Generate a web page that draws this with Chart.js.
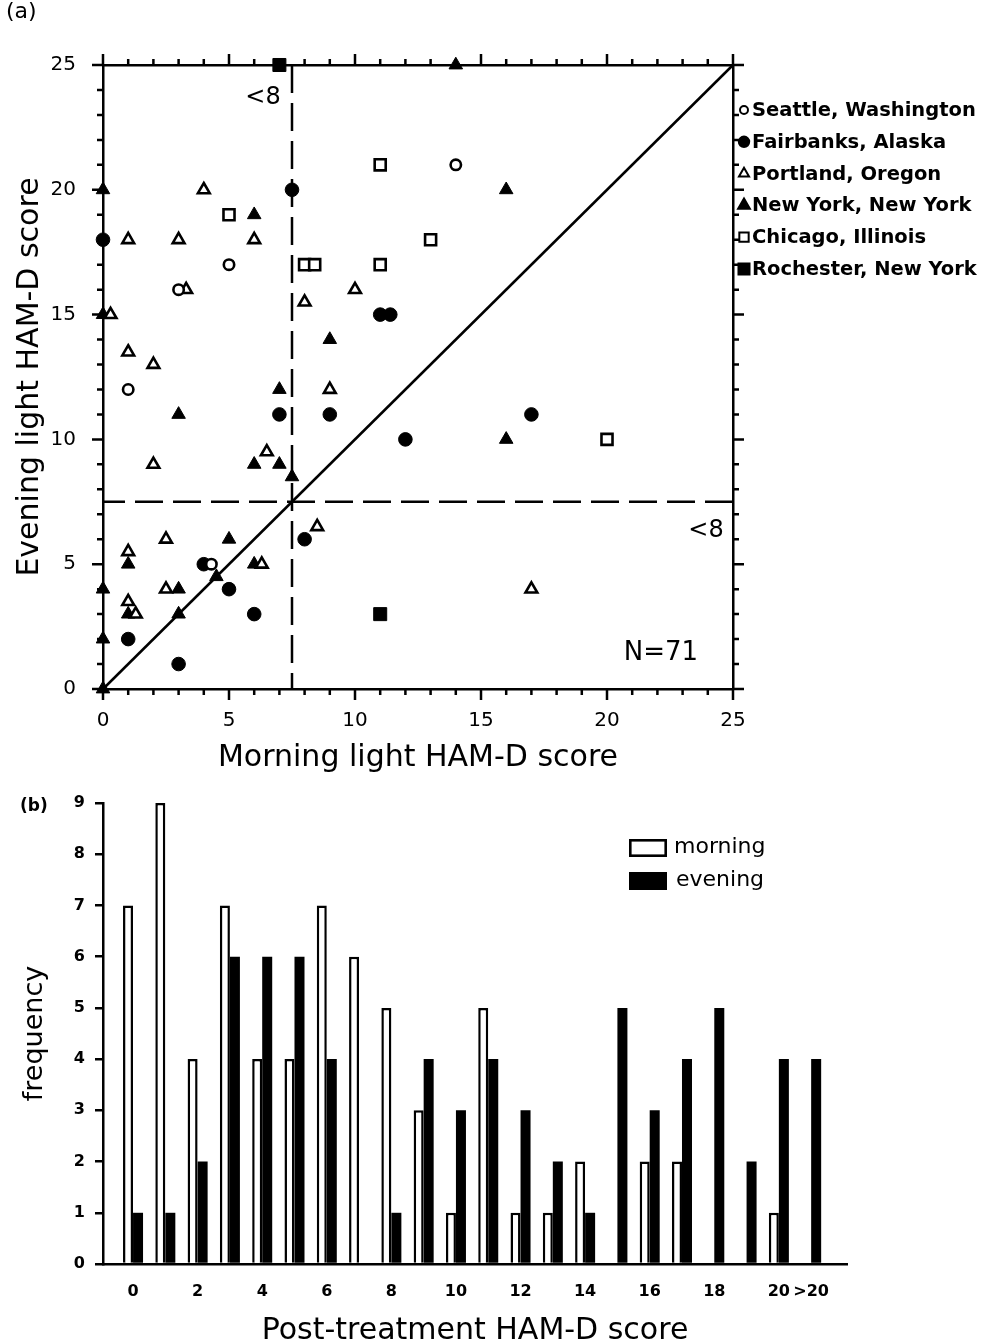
<!DOCTYPE html>
<html><head><meta charset="utf-8">
<script src="https://cdn.jsdelivr.net/npm/chart.js@4.4.1/dist/chart.umd.min.js"></script>
<style>
html,body{margin:0;padding:0;background:#fff;}
#wrapA{position:absolute;left:0;top:0;width:993px;height:780px;}
#wrapB{position:absolute;left:0;top:780px;width:993px;height:562px;}
canvas{display:block;}
</style></head><body>
<div id="wrapA"><canvas id="chartA" width="993" height="780"></canvas></div>
<div id="wrapB"><canvas id="chartB" width="993" height="562"></canvas></div>
<script>
// ===== Panel (a): morning vs evening HAM-D scores per site =====
const seattleMorning   = [5, 3, 1, 14, 4.3];
const seattleEvening   = [17, 16, 12, 21, 5];
const fairbanksMorning = [0, 7.5, 11, 11.4, 7, 9, 12, 17, 8, 4, 5, 6, 1, 3];
const fairbanksEvening = [18, 20, 15, 15, 11, 11, 10, 11, 6, 5, 4, 3, 2, 1];
const portlandMorning  = [4, 1, 3, 6, 3.3, 0.3, 1, 2, 8, 10, 9, 6.5, 2, 8.5, 17, 1, 2.5, 2.5, 1, 1.3, 6.3];
const portlandEvening  = [20, 18, 18, 18, 16, 15, 13.5, 13, 15.5, 16, 12, 9.5, 9, 6.5, 4, 5.5, 6, 4, 3.5, 3, 5];
const newYorkMorning   = [0, 6, 14, 16, 0, 9, 7, 3, 6, 7, 7.5, 16, 5, 1, 6, 0, 3, 4.5, 1, 3, 0, 0];
const newYorkEvening   = [20, 19, 25, 20, 15, 14, 12, 11, 9, 9, 8.5, 10, 6, 5, 5, 4, 4, 4.5, 3, 3, 2, 0];
const chicagoMorning   = [5, 11, 13, 8, 8.4, 11, 20];
const chicagoEvening   = [19, 21, 18, 17, 17, 17, 10];
const rochesterMorning = [7, 11];
const rochesterEvening = [25, 3];
const siteNames = ['Seattle, Washington', 'Fairbanks, Alaska', 'Portland, Oregon',
                   'New York, New York', 'Chicago, Illinois', 'Rochester, New York'];
const scatterTicks = [0, 5, 10, 15, 20, 25];
const cutoff = 7.5;
const scoreMax = 25;
const sampleSize = 71;

// ===== Panel (b): frequency of post-treatment scores =====
const scoreCategories = ['0','1','2','3','4','5','6','7','8','9','10','11','12','13','14','15','16','17','18','19','20','>20'];
const morningFreq = [7, 9, 4, 7, 4, 4, 7, 6, 5, 3, 1, 5, 1, 1, 2, 0, 2, 2, 0, 0, 1, 0];
const eveningFreq = [1, 1, 2, 6, 6, 6, 4, 0, 1, 4, 3, 4, 3, 2, 1, 5, 3, 4, 5, 2, 4, 4];
const barTickLabels = ['0','2','4','6','8','10','12','14','16','18','20','>20'];
const freqTicks = [0,1,2,3,4,5,6,7,8,9];

const FONT = "'DejaVu Sans', sans-serif";
const INK = '#000';
const LW = 2.5;

function pts(xs, ys) { return xs.map((x, i) => ({ x: x, y: ys[i] })); }

function drawMarker(ctx, style, r, x, y, filled, bw) {
  ctx.beginPath();
  if (style === 'circle') {
    ctx.arc(x, y, r, 0, Math.PI * 2);
  } else if (style === 'triangle') {
    ctx.moveTo(x, y - r);
    ctx.lineTo(x + 0.866 * r, y + 0.5 * r);
    ctx.lineTo(x - 0.866 * r, y + 0.5 * r);
  } else {
    const s = r * Math.SQRT1_2;
    ctx.rect(x - s, y - s, 2 * s, 2 * s);
  }
  ctx.closePath();
  ctx.fillStyle = filled ? INK : '#fff';
  ctx.fill();
  ctx.lineWidth = bw; ctx.strokeStyle = INK;
  ctx.stroke();
}

function site(label, xs, ys, style, filled, r, lr) {
  return {
    label: label, data: pts(xs, ys), showLine: false, clip: false,
    pointStyle: style, pointRadius: r, pointHoverRadius: r,
    pointBackgroundColor: filled ? INK : '#fff', pointBorderColor: INK,
    pointBorderWidth: filled ? 1 : 2.6,
    legendRadius: lr, legendFilled: filled
  };
}
function guide(a, b, dash) {
  return { label: '', guide: true, data: [a, b], showLine: true, clip: false,
    pointRadius: 0, borderColor: INK, borderWidth: LW, borderDash: dash, fill: false };
}

const frameTicks = {
  id: 'frameTicks',
  afterDraw(chart) {
    const { ctx, chartArea: a, scales: { x, y } } = chart;
    ctx.save(); ctx.strokeStyle = INK; ctx.lineWidth = LW;
    for (let v = 0; v <= scoreMax; v++) {
      const len = (v % 5 === 0) ? 11 : 6;
      const px = x.getPixelForValue(v), py = y.getPixelForValue(v);
      ctx.beginPath();
      ctx.moveTo(px, a.bottom); ctx.lineTo(px, a.bottom + len);
      ctx.moveTo(px, a.top); ctx.lineTo(px, a.top - len);
      ctx.moveTo(a.left, py); ctx.lineTo(a.left - len, py);
      ctx.moveTo(a.right, py); ctx.lineTo(a.right + len, py);
      ctx.stroke();
    }
    ctx.restore();
  }
};

const siteLegend = {
  id: 'siteLegend',
  afterDraw(chart) {
    const ctx = chart.ctx;
    ctx.save();
    let row = 0;
    chart.data.datasets.forEach(ds => {
      if (ds.guide) return;
      const yy = 110 + row * 31.8;
      drawMarker(ctx, ds.pointStyle, ds.legendRadius, 744, yy, ds.legendFilled, 2);
      ctx.fillStyle = INK;
      ctx.font = 'bold 19.5px ' + FONT;
      ctx.textAlign = 'left'; ctx.textBaseline = 'middle';
      ctx.fillText(ds.label, 752, yy + 1);
      row++;
    });
    ctx.restore();
  }
};

const notesA = {
  id: 'notesA',
  afterDraw(chart) {
    const ctx = chart.ctx;
    ctx.save(); ctx.fillStyle = INK; ctx.textBaseline = 'middle';
    ctx.font = '22px ' + FONT; ctx.textAlign = 'left';
    ctx.fillText('(a)', 6, 12);
    ctx.font = '24px ' + FONT; ctx.textAlign = 'center';
    ctx.fillText('<' + Math.ceil(cutoff), 263, 98);
    ctx.fillText('<' + Math.ceil(cutoff), 706, 531);
    ctx.font = '26px ' + FONT;
    ctx.fillText('N=' + sampleSize, 661, 653);
    ctx.restore();
  }
};

const tickFontA = { family: FONT, size: 20 };
new Chart(document.getElementById('chartA'), {
  type: 'scatter',
  data: {
    datasets: [
      site(siteNames[0], seattleMorning, seattleEvening, 'circle', false, 5.2, 4),
      site(siteNames[1], fairbanksMorning, fairbanksEvening, 'circle', true, 6.8, 5.2),
      site(siteNames[2], portlandMorning, portlandEvening, 'triangle', false, 6.8, 5.8),
      site(siteNames[3], newYorkMorning, newYorkEvening, 'triangle', true, 7.8, 6.8),
      site(siteNames[4], chicagoMorning, chicagoEvening, 'rect', false, 7.8, 6.6),
      site(siteNames[5], rochesterMorning, rochesterEvening, 'rect', true, 9.2, 7.8),
      guide({ x: cutoff, y: scoreMax }, { x: cutoff, y: 0 }, [28, 10]),
      guide({ x: scoreMax, y: cutoff }, { x: 0, y: cutoff }, [28, 10]),
      guide({ x: 0, y: 0 }, { x: scoreMax, y: scoreMax }, [])
    ]
  },
  options: {
    responsive: false, animation: false, events: [],
    layout: { padding: 0 },
    plugins: { legend: { display: false }, tooltip: { enabled: false } },
    scales: {
      x: {
        type: 'linear', position: 'bottom', min: 0, max: scoreMax,
        afterBuildTicks: s => { s.ticks = scatterTicks.map(v => ({ value: v })); },
        ticks: { font: tickFontA, color: INK, padding: 12, maxRotation: 0 },
        grid: { display: false },
        border: { display: true, width: LW, color: INK },
        title: { display: true, text: 'Morning light HAM-D score', color: INK,
                 font: { family: FONT, size: 30 }, padding: { top: 0, bottom: 4 } },
        afterFit: s => { s.height = 91; }
      },
      x2: {
        type: 'linear', position: 'top', min: 0, max: scoreMax,
        ticks: { display: false }, grid: { display: false },
        border: { display: true, width: LW, color: INK },
        afterFit: s => { s.height = 65; }
      },
      y: {
        type: 'linear', position: 'left', min: 0, max: scoreMax,
        afterBuildTicks: s => { s.ticks = scatterTicks.map(v => ({ value: v })); },
        ticks: { font: tickFontA, color: INK, padding: 19 },
        grid: { display: false },
        border: { display: true, width: LW, color: INK },
        title: { display: true, text: 'Evening light HAM-D score', color: INK,
                 font: { family: FONT, size: 30 }, padding: { top: 12, bottom: 0 } },
        afterFit: s => { s.width = 103; }
      },
      y2: {
        type: 'linear', position: 'right', min: 0, max: scoreMax,
        ticks: { display: false }, grid: { display: false },
        border: { display: true, width: LW, color: INK },
        afterFit: s => { s.width = 260; }
      }
    }
  },
  plugins: [frameTicks, siteLegend, notesA]
});

// ===== Panel (b) =====
const barLegend = {
  id: 'barLegend',
  afterDraw(chart) {
    const ctx = chart.ctx;
    ctx.save();
    chart.data.datasets.forEach((ds, i) => {
      const top = 59 + i * 33;
      ctx.fillStyle = ds.backgroundColor;
      ctx.fillRect(629, top, 38, 18);
      if (ds.borderWidth) {
        ctx.lineWidth = 2.6; ctx.strokeStyle = INK;
        ctx.strokeRect(630.3, top + 1.3, 35.4, 15.4);
      }
      ctx.fillStyle = INK;
      ctx.font = '22px ' + FONT; ctx.textAlign = 'left'; ctx.textBaseline = 'middle';
      ctx.fillText(ds.label, 674 + i * 2, top + 8);
    });
    ctx.font = 'bold 17px ' + FONT; ctx.textAlign = 'left'; ctx.textBaseline = 'middle';
    ctx.fillText('(b)', 20, 27);
    ctx.restore();
  }
};

const tickFontB = { family: FONT, size: 16, weight: 'bold' };
new Chart(document.getElementById('chartB'), {
  type: 'bar',
  data: {
    datasets: [
      { label: 'morning', data: scoreCategories.map((c, i) => ({ x: i, y: morningFreq[i] })),
        backgroundColor: '#fff', borderColor: INK, borderWidth: 2.5, borderSkipped: 'start',
        categoryPercentage: 0.62, barPercentage: 1 },
      { label: 'evening', data: scoreCategories.map((c, i) => ({ x: i, y: eveningFreq[i] })),
        backgroundColor: INK, borderColor: INK, borderWidth: 0,
        categoryPercentage: 0.62, barPercentage: 1 }
    ]
  },
  options: {
    responsive: false, animation: false, events: [],
    layout: { padding: { top: 23, right: 146, left: 0, bottom: 0 } },
    plugins: { legend: { display: false }, tooltip: { enabled: false } },
    scales: {
      x: {
        type: 'linear', position: 'bottom', offset: false, min: -0.93, max: 22.11,
        afterBuildTicks: s => { s.ticks = barTickLabels.map(l => ({ value: scoreCategories.indexOf(l) })); },
        ticks: { font: tickFontB, color: INK, padding: 10, autoSkip: false, maxRotation: 0,
                 callback: v => scoreCategories[v] },
        grid: { display: false },
        border: { display: true, width: LW, color: INK },
        title: { display: true, text: 'Post-treatment HAM-D score', color: INK,
                 font: { family: FONT, size: 30, lineHeight: 0.75 }, padding: { top: 0, bottom: 0 } },
        afterFit: s => { s.height = 78; }
      },
      y: {
        type: 'linear', position: 'left', min: 0, max: 9,
        afterBuildTicks: s => { s.ticks = freqTicks.map(v => ({ value: v })); },
        ticks: { font: tickFontB, color: INK, padding: 10 },
        grid: { display: true, drawOnChartArea: false, drawTicks: true, tickLength: 8,
                color: INK, lineWidth: LW },
        border: { display: true, width: LW, color: INK },
        title: { display: true, text: 'frequency', color: INK,
                 font: { family: FONT, size: 27 }, padding: { top: 19, bottom: 0 } },
        afterFit: s => { s.width = 103; }
      }
    }
  },
  plugins: [barLegend]
});
</script>
</body></html>
